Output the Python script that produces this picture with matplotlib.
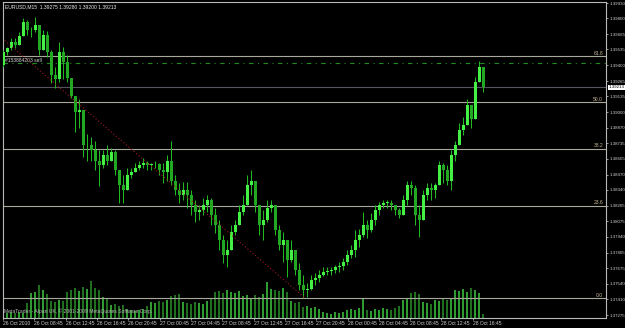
import numpy as np
import matplotlib
matplotlib.use("Agg")
import matplotlib.pyplot as plt
import matplotlib.transforms as mtransforms

plt.rcParams['font.family'] = ['Liberation Sans', 'DejaVu Sans']

# EURUSD M15 candles (roughly two M15 bars per candle)
first_open = 1.3940
highs = [1.3953, 1.3956, 1.3963, 1.3963, 1.3968, 1.3980, 1.3979, 1.3973, 1.3981, 1.3970,
         1.3970, 1.3969, 1.3953, 1.3939, 1.3960, 1.3956, 1.3949, 1.3929, 1.3914, 1.3911,
         1.3902, 1.3882, 1.3879, 1.3876, 1.3868, 1.3868, 1.3872, 1.3870, 1.3868, 1.3851,
         1.3847, 1.3853, 1.3853, 1.3857, 1.3859, 1.3861, 1.3859, 1.3857, 1.3859, 1.3857,
         1.3857, 1.3864, 1.3876, 1.3847, 1.3840, 1.3841, 1.3841, 1.3834, 1.3825, 1.3821,
         1.3827, 1.3830, 1.3827, 1.3819, 1.3808, 1.3796, 1.3791, 1.3804, 1.3808, 1.3821,
         1.3830, 1.3847, 1.3851, 1.3842, 1.3821, 1.3817, 1.3825, 1.3825, 1.3821, 1.3804,
         1.3798, 1.3791, 1.3791, 1.3783, 1.3772, 1.3762, 1.3755, 1.3762, 1.3763, 1.3766,
         1.3768, 1.3768, 1.3768, 1.3770, 1.3773, 1.3776, 1.3783, 1.3787, 1.3800, 1.3801,
         1.3815, 1.3808, 1.3814, 1.3821, 1.3824, 1.3825, 1.3825, 1.3825, 1.3821, 1.3819,
         1.3830, 1.3842, 1.3842, 1.3838, 1.3821, 1.3834, 1.3840, 1.3840, 1.3840, 1.3859,
         1.3857, 1.3855, 1.3868, 1.3876, 1.3891, 1.3896, 1.3911, 1.3906, 1.3930, 1.3944,
         1.3939]
lows = [1.3939, 1.3949, 1.3953, 1.3955, 1.3959, 1.3968, 1.3966, 1.3964, 1.3968, 1.3949,
        1.3953, 1.3947, 1.3925, 1.3921, 1.3926, 1.3928, 1.3926, 1.3912, 1.3883, 1.3887,
        1.3862, 1.3859, 1.3859, 1.3851, 1.3837, 1.3853, 1.3855, 1.3859, 1.3847, 1.3823,
        1.3823, 1.3834, 1.3844, 1.3849, 1.3851, 1.3853, 1.3851, 1.3851, 1.3853, 1.3847,
        1.3840, 1.3842, 1.3838, 1.3830, 1.3823, 1.3825, 1.3819, 1.3813, 1.3807, 1.3808,
        1.3813, 1.3815, 1.3804, 1.3797, 1.3783, 1.3772, 1.3768, 1.3783, 1.3796, 1.3804,
        1.3813, 1.3821, 1.3830, 1.3815, 1.3796, 1.3791, 1.3807, 1.3815, 1.3796, 1.3783,
        1.3773, 1.3760, 1.3773, 1.3762, 1.3749, 1.3742, 1.3743, 1.3749, 1.3753, 1.3756,
        1.3761, 1.3762, 1.3762, 1.3763, 1.3764, 1.3766, 1.3770, 1.3776, 1.3777, 1.3785,
        1.3794, 1.3793, 1.3798, 1.3804, 1.3813, 1.3819, 1.3819, 1.3817, 1.3813, 1.3810,
        1.3813, 1.3821, 1.3830, 1.3804, 1.3794, 1.3808, 1.3825, 1.3825, 1.3827, 1.3838,
        1.3840, 1.3838, 1.3834, 1.3859, 1.3872, 1.3881, 1.3889, 1.3887, 1.3894, 1.3926,
        1.3917]
closes = [1.3951, 1.3955, 1.3960, 1.3957, 1.3965, 1.3977, 1.3970, 1.3970, 1.3974, 1.3953,
          1.3966, 1.3951, 1.3932, 1.3928, 1.3951, 1.3943, 1.3929, 1.3914, 1.3900, 1.3902,
          1.3872, 1.3872, 1.3868, 1.3859, 1.3855, 1.3864, 1.3859, 1.3866, 1.3851, 1.3838,
          1.3834, 1.3847, 1.3849, 1.3853, 1.3855, 1.3857, 1.3855, 1.3856, 1.3856, 1.3851,
          1.3849, 1.3859, 1.3842, 1.3834, 1.3830, 1.3834, 1.3830, 1.3821, 1.3815, 1.3817,
          1.3821, 1.3825, 1.3813, 1.3804, 1.3791, 1.3779, 1.3783, 1.3798, 1.3804, 1.3815,
          1.3821, 1.3838, 1.3842, 1.3821, 1.3804, 1.3808, 1.3819, 1.3821, 1.3800, 1.3787,
          1.3791, 1.3774, 1.3783, 1.3766, 1.3753, 1.3749, 1.3750, 1.3757, 1.3759, 1.3762,
          1.3764, 1.3765, 1.3766, 1.3768, 1.3769, 1.3773, 1.3779, 1.3783, 1.3791, 1.3796,
          1.3804, 1.3800, 1.3808, 1.3817, 1.3821, 1.3823, 1.3823, 1.3821, 1.3817, 1.3813,
          1.3825, 1.3838, 1.3836, 1.3813, 1.3808, 1.3830, 1.3836, 1.3834, 1.3838, 1.3855,
          1.3851, 1.3842, 1.3864, 1.3872, 1.3885, 1.3889, 1.3906, 1.3894, 1.3926, 1.3939,
          1.39213]
volumes = [50, 50, 60, 50, 60, 50, 150, 250, 260, 330, 280, 240, 170, 160, 180, 170, 260, 280,
           300, 270, 310, 290, 370, 300, 280, 210, 200, 130, 140, 120, 130, 90, 80, 70, 80, 90,
           120, 160, 150, 170, 160, 180, 220, 230, 240, 160, 150, 140, 160, 150, 140, 170, 200,
           260, 270, 250, 280, 260, 250, 270, 220, 230, 200, 230, 210, 240, 360, 290, 280, 270,
           300, 260, 170, 150, 160, 110, 120, 100, 110, 90, 60, 50, 40, 60, 50, 60, 80, 90, 80,
           100, 190, 80, 70, 90, 80, 100, 90, 80, 100, 120, 180, 200, 250, 260, 240, 160, 150,
           140, 180, 170, 190, 180, 200, 280, 270, 290, 260, 300, 280, 250, 40]

date_labels = ["26 Oct 2010", "26 Oct 08:45", "26 Oct 12:45", "26 Oct 16:45", "26 Oct 20:45",
               "27 Oct 00:45", "27 Oct 04:45", "27 Oct 08:45", "27 Oct 12:45", "27 Oct 16:45",
               "27 Oct 20:45", "28 Oct 00:45", "28 Oct 04:45", "28 Oct 08:45", "28 Oct 12:45",
               "28 Oct 16:45"]
price_ticks = [1.39930, 1.39800, 1.39665, 1.39535, 1.39400, 1.39265, 1.39135, 1.39000,
               1.38870, 1.38735, 1.38605, 1.38470, 1.38340, 1.38205, 1.38075, 1.37940,
               1.37805, 1.37675, 1.37540, 1.37410, 1.37275]

# objects on the chart
fib_low, fib_high = 1.3742, 1.4075
fib_levels = [0.0, 23.6, 38.2, 50.0, 61.8]
sell_price = 1.3942
sell_label = "#153884203 sell"
trend_start = (-0.25, 1.3963)
trend_end = (75.5, 1.3742)
bid = 1.39213
header = "EURUSD,M15  1.39275 1.39280 1.39200 1.39213"
footer = "MetaTrader - Alpari UK, \u00a9 2001-2009 MetaQuotes Software Corp."

y0, y1 = 1.37250, 1.39939
txt = '#d0d0d0'
fs = 3.6

fig = plt.figure(figsize=(6.25, 3.28), dpi=100, facecolor='black')
ax = fig.add_axes([3 / 625, 10 / 328, 603 / 625, 316 / 328])
ax.set_facecolor('black')
ax.set_xlim(0, 150.75)
ax.set_ylim(y0, y1)

opens = [first_open] + closes[:-1]
x = np.arange(len(closes))
o = np.array(opens)
c = np.array(closes)
h = np.maximum(np.array(highs), np.maximum(o, c))
l = np.minimum(np.array(lows), np.minimum(o, c))
up = c >= o

# volumes in the bottom of the price window
vscale = (y1 - y0) / 3160
ax.bar(x, np.array(volumes) * vscale, bottom=y0, width=0.45,
       color=np.where(up, '#2f9a2f', '#1f6f1f'), zorder=1)

# candles
ax.vlines(x, l, h, color='#22c022', lw=0.7, zorder=3)
body = np.maximum(np.abs(c - o), 0.00003)
ax.bar(x, body, bottom=np.minimum(o, c), width=0.75,
       color=np.where(up, '#44f044', '#22a822'), edgecolor='none', zorder=4)

# fibonacci retracement
trans = mtransforms.blended_transform_factory(ax.transAxes, ax.transData)
for lev in fib_levels:
    p = fib_low + (fib_high - fib_low) * lev / 100
    ax.axhline(p, color='#a8a89c', lw=0.8, zorder=2)
    ax.text(0.995, p + 0.00003, f"{lev:.1f}", transform=trans, ha='right', va='bottom',
            fontsize=fs, color='#c8b898', zorder=6)

# bid line, order line, trend line
ax.axhline(bid, color='#55555f', lw=0.8, zorder=2)
ax.axhline(sell_price, color='#1f8a1f', lw=0.8, ls=(0, (4, 4, 1, 4)), zorder=2)
ax.text(0.004, sell_price + 0.00003, sell_label, transform=trans, ha='left', va='bottom',
        fontsize=fs, color=txt, zorder=6)
ax.plot([trend_start[0], trend_end[0]], [trend_start[1], trend_end[1]],
        color='#a01822', lw=0.8, ls=(0, (1, 2)), zorder=5)

ax.text(0.003, 0.992, header, transform=ax.transAxes, ha='left', va='top',
        fontsize=fs, color='#e8e8e8', zorder=6)
ax.text(0.001, 0.012, footer, transform=ax.transAxes, ha='left', va='bottom',
        fontsize=fs, color='#b8b8b8', zorder=6)

# axes styling
for s in ax.spines.values():
    s.set_color('#b8b8b8')
    s.set_linewidth(0.8)
ax.yaxis.tick_right()
ax.set_yticks(price_ticks)
ax.set_yticklabels([f"{p:.5f}" for p in price_ticks])
ax.set_xticks(np.arange(len(date_labels)) * 7.83)
ax.set_xticklabels(date_labels)
for lbl in ax.get_xticklabels():
    lbl.set_horizontalalignment('left')
ax.tick_params(axis='x', colors='#b8b8b8', labelcolor=txt, labelsize=fs,
               length=1.5, width=0.6, pad=0.8)
ax.tick_params(axis='y', colors='#b8b8b8', labelcolor=txt, labelsize=3.2,
               length=1.5, width=0.6, pad=0.8)

ax.annotate(f"{bid:.5f}", xy=(1.0, bid), xycoords=trans, xytext=(1.8, 0),
            textcoords='offset points', ha='left', va='center', fontsize=3.2,
            color='black', bbox=dict(boxstyle='square,pad=0.15', fc='white', ec='none'),
            annotation_clip=False, zorder=7)

fig.savefig('out.png', dpi=100, facecolor='black')
